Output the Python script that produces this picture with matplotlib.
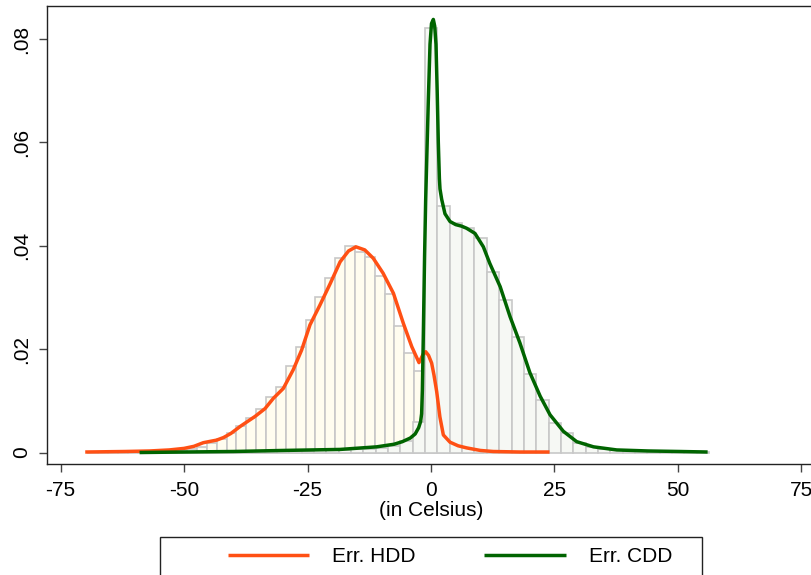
import matplotlib
matplotlib.use("Agg")
import matplotlib.pyplot as plt
from matplotlib.patches import Rectangle
import numpy as np

plt.rcParams['font.family'] = ['Liberation Sans', 'DejaVu Sans']

# histogram of HDD errors (bin width 2)
hdd_bin_centers = [-68.4, -66.4, -64.4, -62.4, -60.4, -58.4, -56.4, -54.4, -52.4, -50.4,
                   -48.4, -46.4, -44.4, -42.4, -40.4, -38.4, -36.4, -34.4, -32.4, -30.4,
                   -28.4, -26.4, -24.4, -22.4, -20.4, -18.4, -16.4, -14.4, -12.4, -10.4,
                   -8.4, -6.4, -4.4, -2.4, -0.4, 1.6, 3.6, 5.6, 7.6, 9.6]
hdd_density = [0.00005, 0.00005, 0.0001, 0.0001, 0.0001, 0.0001, 0.0002, 0.0002, 0.0003, 0.0004,
               0.0006, 0.0011, 0.0018, 0.0027, 0.0037, 0.0052, 0.0066, 0.0085, 0.0108, 0.0126,
               0.0167, 0.0205, 0.0256, 0.0300, 0.0338, 0.0376, 0.0400, 0.0388, 0.0379, 0.0341,
               0.0306, 0.0245, 0.0193, 0.0157, 0.0180, 0.0060, 0.0020, 0.0010, 0.0005, 0.0003]

# histogram of CDD errors (bin width 2.5)
cdd_bin_centers = [-57.45, -54.95, -52.45, -49.95, -47.45, -44.95, -42.45, -39.95, -37.45, -34.95,
                   -32.45, -29.95, -27.45, -24.95, -22.45, -19.95, -17.45, -14.95, -12.45, -9.95,
                   -7.45, -4.95, -2.45, 0.05, 2.55, 5.05, 7.55, 10.05, 12.55, 15.05,
                   17.55, 20.05, 22.55, 25.05, 27.55, 30.05, 32.55, 35.05, 37.55, 40.05,
                   42.55, 45.05, 47.55, 50.05, 52.55, 55.05]
cdd_density = [0.00005, 0.00005, 0.00005, 0.0001, 0.0001, 0.0001, 0.0001, 0.0002, 0.0002, 0.0002,
               0.0002, 0.0003, 0.0003, 0.0003, 0.0004, 0.0004, 0.0005, 0.0006, 0.0007, 0.0009,
               0.0012, 0.0022, 0.0059, 0.0821, 0.0477, 0.0445, 0.0435, 0.0416, 0.0350, 0.0295,
               0.0224, 0.0152, 0.0102, 0.0058, 0.0037, 0.0018, 0.0011, 0.0007, 0.0004, 0.0003,
               0.0002, 0.0002, 0.0001, 0.0001, 0.0001, 0.00005]

# kernel density curves
hdd_kx = [-70, -62, -57, -53, -50, -48, -46.1, -44.5, -43.4, -42, -40.5, -38.7, -37, -35.6,
          -33.6, -31.9, -29.9, -27.9, -26.2, -24.5, -22.5, -20.4, -18.4, -16.7, -15.2, -13.4,
          -11.7, -9.7, -7.6, -5.6, -3.9, -2.43, -1.6, -1.08, -0.5, 0.13, 0.6, 1.15, 1.8, 2.5,
          3.85, 5.5, 7.2, 10, 12.6, 18, 24]
hdd_ky = [0.0001, 0.0002, 0.0003, 0.0005, 0.0008, 0.0012, 0.0019, 0.0022, 0.0024, 0.0029,
          0.0037, 0.0050, 0.0061, 0.0070, 0.0085, 0.0105, 0.0124, 0.0160, 0.0198, 0.0247,
          0.0285, 0.0327, 0.0369, 0.0390, 0.0398, 0.0392, 0.0376, 0.0347, 0.0308, 0.0250,
          0.0205, 0.0174, 0.0190, 0.0195, 0.0188, 0.0173, 0.0150, 0.0118, 0.0069, 0.0034,
          0.0020, 0.0013, 0.0009, 0.0004, 0.0002, 0.0001, 0.0001]

cdd_kx = [-59, -50, -40, -30, -18.4, -11, -7.5, -5.8, -4.2, -3.2, -2.5, -2.1, -1.9, -1.75,
          -1.55, -1.3, -1.08, -0.8, -0.54, -0.2, 0.1, 0.47, 0.75, 1.01, 1.25, 1.48, 1.7, 1.82,
          2.16, 2.83, 3.85, 5.0, 6.2, 7.2, 8.9, 10.6, 11.9, 14.0, 16.0, 18.0, 20.0, 22.1, 24.1,
          26.8, 29.5, 32.9, 37.6, 44, 50.4, 56]
cdd_ky = [0.0000, 0.0001, 0.0002, 0.0004, 0.0006, 0.0011, 0.0016, 0.0021, 0.0028, 0.0036,
          0.0048, 0.0060, 0.0075, 0.0120, 0.0230, 0.0380, 0.0488, 0.0590, 0.0682, 0.0790,
          0.0830, 0.0838, 0.0825, 0.0790, 0.0700, 0.0600, 0.0530, 0.0510, 0.0490, 0.0462,
          0.0447, 0.0441, 0.0438, 0.0434, 0.0424, 0.0398, 0.0366, 0.0321, 0.0263, 0.0212,
          0.0155, 0.0109, 0.0073, 0.0041, 0.0021, 0.0011, 0.0005, 0.0003, 0.0002, 0.0001]

xticks = [-75, -50, -25, 0, 25, 50, 75]
yticks = [0, 0.02, 0.04, 0.06, 0.08]
ytick_labels = ['0', '.02', '.04', '.06', '.08']

orange = '#FF5014'
green = '#006400'
fs = 15

fig = plt.figure(figsize=(8.12, 5.75), dpi=100)
ax = fig.add_axes([46.7 / 812, 111 / 575, 768.6 / 812, 458 / 575])

ax.bar(hdd_bin_centers, hdd_density, width=2.0, color='#FFFDEF', edgecolor='#C8C8C8', linewidth=1.2, zorder=1)
ax.bar(cdd_bin_centers, cdd_density, width=2.5, color='#F6F8F4', edgecolor='#C8C8C8', linewidth=1.2, zorder=2)

l1, = ax.plot(hdd_kx, hdd_ky, color=orange, lw=2.5, zorder=3, solid_capstyle='butt', solid_joinstyle='round')
l2, = ax.plot(cdd_kx, cdd_ky, color=green, lw=2.5, zorder=4, solid_capstyle='butt', solid_joinstyle='round')

ax.set_xlim(-77.8, 77.8)
ax.set_ylim(-0.00222, 0.0864)

ax.set_xticks(xticks)
ax.set_xticklabels([str(t) for t in xticks], fontsize=fs)
ax.set_yticks(yticks)
ax.set_yticklabels(ytick_labels, fontsize=fs, rotation=90, va='center')
ax.tick_params(axis='both', length=6, width=1.0, color='#444444', pad=5)
ax.tick_params(axis='x', pad=6)

for s in ax.spines.values():
    s.set_linewidth(1.0)
    s.set_color('#222222')

ax.set_xlabel('(in Celsius)', fontsize=fs, labelpad=1)

# legend box (runs off the bottom of the figure like the original)
fig.patches.append(Rectangle((160 / 812, -0.1), 542 / 812, 0.1 + 38 / 575,
                             transform=fig.transFigure, facecolor='white',
                             edgecolor='#222222', linewidth=1.0))
fig.legend([l1, l2], ['Err. HDD', 'Err. CDD'], loc='center left',
           bbox_to_anchor=(228 / 812, 18 / 575), ncol=2, frameon=False,
           fontsize=fs, handlelength=3.9, handletextpad=1.1, columnspacing=3.3,
           borderpad=0, borderaxespad=0)

fig.savefig('out.png', dpi=100)
